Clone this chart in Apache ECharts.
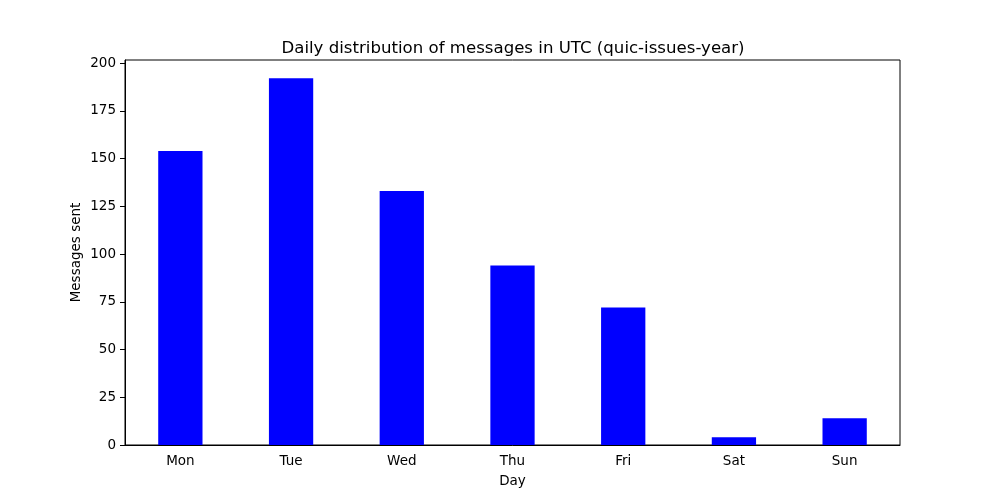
<!DOCTYPE html>
<html>
<head>
<meta charset="utf-8">
<script src="https://cdn.jsdelivr.net/npm/echarts@6/dist/echarts.min.js"></script>
<style>
  html, body { margin: 0; padding: 0; background: #fff; }
  #chart { width: 1000px; height: 500px; }
</style>
</head>
<body>
<div id="chart"></div>
<script>
var days = ['Mon', 'Tue', 'Wed', 'Thu', 'Fri', 'Sat', 'Sun'];
var messages = [154, 192, 133, 94, 72, 4, 14];
var yTicks = [0, 25, 50, 75, 100, 125, 150, 175, 200];

var chartDom = document.getElementById('chart');
var myChart = echarts.init(chartDom);
var font = 'DejaVu Sans';
var option = {
    animation: false,
    textStyle: { fontFamily: font, color: '#000' },
    title: {
        text: 'Daily distribution of messages in UTC (quic-issues-year)',
        left: 508,
        textAlign: 'center',
        top: 35,
        textStyle: { fontFamily: font, fontSize: 16.6, fontWeight: 'normal', color: '#000' }
    },
    grid: {
        left: 125,
        right: 100,
        top: 60,
        bottom: 55,
        show: true,
        borderColor: '#000',
        borderWidth: 1,
        containLabel: false
    },
    xAxis: {
        type: 'category',
        data: days,
        name: 'Day',
        nameLocation: 'middle',
        nameGap: 29,
        nameMoveOverlap: false,
        nameTextStyle: { fontFamily: font, fontSize: 13.5, color: '#000' },
        axisLine: { lineStyle: { color: '#000', width: 1 } },
        axisTick: { alignWithLabel: true, length: 5, lineStyle: { color: '#000' } },
        axisLabel: { margin: 9, fontFamily: font, fontSize: 13.5, color: '#000' },
        splitLine: { show: false }
    },
    yAxis: {
        type: 'value',
        min: 0,
        max: 201.6,
        interval: 25,
        name: 'Messages sent',
        nameLocation: 'middle',
        nameGap: 42,
        nameMoveOverlap: false,
        nameTextStyle: { fontFamily: font, fontSize: 13.5, color: '#000' },
        axisLine: { show: true, lineStyle: { color: '#000', width: 1 } },
        axisTick: { show: true, length: 5, customValues: yTicks, lineStyle: { color: '#000' } },
        axisLabel: { margin: 9, customValues: yTicks, fontFamily: font, fontSize: 13.5, color: '#000' },
        splitLine: { show: false }
    },
    series: [
        {
            name: 'Messages sent',
            type: 'bar',
            data: messages,
            barWidth: '40%',
            itemStyle: { color: '#0000ff' }
        }
    ]
};
option && myChart.setOption(option);
</script>
</body>
</html>
